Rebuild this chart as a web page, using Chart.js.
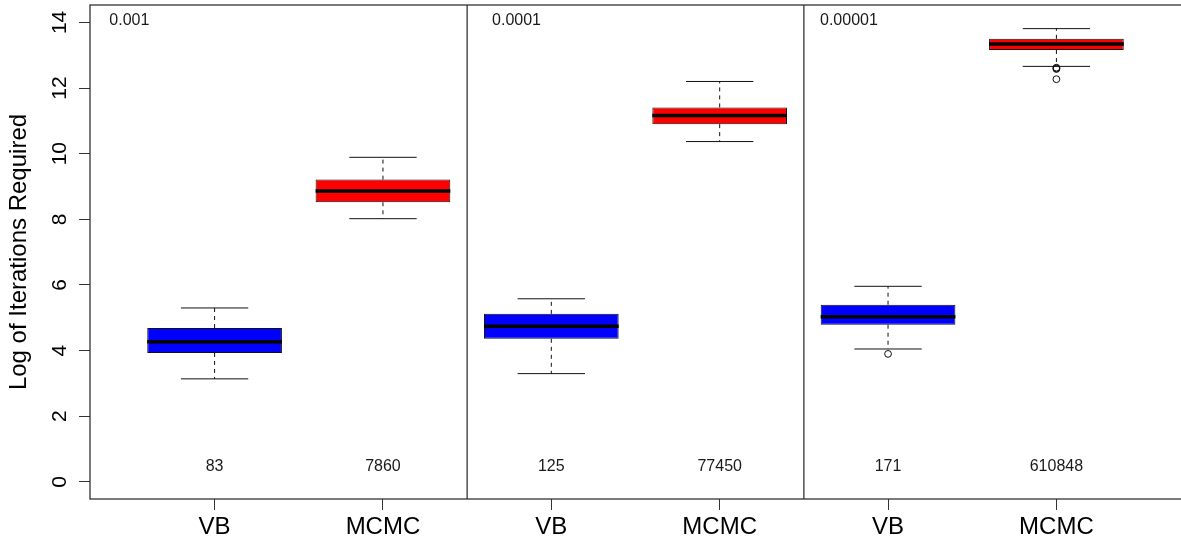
<!DOCTYPE html>
<html>
<head>
<meta charset="utf-8">
<script src="https://cdn.jsdelivr.net/npm/chart.js@4/dist/chart.umd.min.js"></script>
<style>
  html, body { margin: 0; padding: 0; background: #fff; }
</style>
</head>
<body>
<canvas id="iterations" width="1181" height="540"></canvas>
<script>
// data (log of iterations)
const groups = ['VB', 'MCMC', 'VB', 'MCMC', 'VB', 'MCMC'];
const positions = [1, 2, 3, 4, 5, 6];
const lowerWhisker = [3.14, 8.02, 3.30, 10.37, 4.05, 12.66];
const q1 = [3.93, 8.52, 4.36, 10.90, 4.79, 13.16];
const median = [4.27, 8.86, 4.74, 11.16, 5.03, 13.34];
const q3 = [4.69, 9.21, 5.12, 11.41, 5.40, 13.50];
const upperWhisker = [5.30, 9.89, 5.58, 12.20, 5.96, 13.81];
const outlierPos = [5, 6, 6, 6, 6];
const outlierVal = [3.90, 12.62, 12.60, 12.58, 12.27];
const tolerances = ['0.001', '0.0001', '0.00001'];
const counts = ['83', '7860', '125', '77450', '171', '610848'];
const yTicks = [0, 2, 4, 6, 8, 10, 12, 14];

const FONT = '"Liberation Sans", Arial, sans-serif';
const BOX_HALF = 0.4, CAP_HALF = 0.2;
const separators = [2.5, 4.5];
const tolX = [0.375, 2.648, 4.596], tolY = 14.05, countY = 0.48;

// turns [[x1,y1],[x2,y2]] pairs into one line dataset with gaps between them
function segments(pairs) {
  const pts = [];
  pairs.forEach(([a, b]) => {
    pts.push({x: a[0], y: a[1]}, {x: b[0], y: b[1]}, {x: b[0], y: null});
  });
  return pts;
}

const lineDefaults = {
  type: 'line', pointRadius: 0, borderColor: '#111', borderWidth: 1,
  fill: false, spanGaps: false, tension: 0
};

const decorations = {
  id: 'decorations',
  afterDatasetsDraw(chart) {
    const {ctx, chartArea: a, scales: {x, y}} = chart;
    ctx.save();
    ctx.strokeStyle = '#333';
    ctx.lineWidth = 1.3;
    // the R plot box runs just past the right edge of the image
    ctx.strokeRect(a.left, a.top, a.right - a.left + 1.5, a.bottom - a.top);
    separators.forEach(s => {
      const px = x.getPixelForValue(s);
      ctx.beginPath();
      ctx.moveTo(px, a.top);
      ctx.lineTo(px, a.bottom);
      ctx.stroke();
    });

    ctx.fillStyle = '#1a1a1a';
    ctx.font = '16px ' + FONT;
    ctx.textBaseline = 'middle';
    ctx.textAlign = 'left';
    tolerances.forEach((t, i) => ctx.fillText(t, x.getPixelForValue(tolX[i]), y.getPixelForValue(tolY)));
    ctx.textAlign = 'center';
    counts.forEach((t, i) => ctx.fillText(t, x.getPixelForValue(positions[i]), y.getPixelForValue(countY)));

    // rotated y tick labels, like R's default las = 0
    ctx.fillStyle = '#000';
    ctx.font = '21px ' + FONT;
    ctx.textBaseline = 'alphabetic';
    yTicks.forEach(v => {
      ctx.save();
      ctx.translate(y.right - 24.5, y.getPixelForValue(v));
      ctx.rotate(-Math.PI / 2);
      ctx.fillText(String(v), 0, 0);
      ctx.restore();
    });
    ctx.restore();
  }
};

new Chart(document.getElementById('iterations'), {
  type: 'bar',
  data: {
    datasets: [
      {
        type: 'bar',
        data: positions.map((p, i) => ({x: p, y: [q1[i], q3[i]]})),
        backgroundColor: groups.map(g => g === 'VB' ? '#0000ff' : '#ff0000'),
        borderColor: '#111',
        borderWidth: 1,
        borderSkipped: false,
        categoryPercentage: 1,
        barPercentage: 0.8,
        order: 2
      },
      Object.assign({}, lineDefaults, {
        data: segments(positions.map((p, i) => [[p, q3[i]], [p, upperWhisker[i]]])
          .concat(positions.map((p, i) => [[p, q1[i]], [p, lowerWhisker[i]]]))),
        borderDash: [4, 4],
        order: 3
      }),
      Object.assign({}, lineDefaults, {
        data: segments(positions.map((p, i) => [[p - CAP_HALF, upperWhisker[i]], [p + CAP_HALF, upperWhisker[i]]])
          .concat(positions.map((p, i) => [[p - CAP_HALF, lowerWhisker[i]], [p + CAP_HALF, lowerWhisker[i]]]))),
        order: 1
      }),
      Object.assign({}, lineDefaults, {
        data: segments(positions.map((p, i) => [[p - BOX_HALF, median[i]], [p + BOX_HALF, median[i]]])),
        borderColor: '#000',
        borderWidth: 3.5,
        order: 0
      }),
      {
        type: 'scatter',
        data: outlierPos.map((p, i) => ({x: p, y: outlierVal[i]})),
        pointRadius: 3.4,
        pointBorderColor: '#111',
        pointBackgroundColor: 'rgba(0,0,0,0)',
        pointBorderWidth: 1,
        order: 0
      }
    ]
  },
  options: {
    responsive: false,
    animation: false,
    layout: {autoPadding: false, padding: {top: 5, right: 0, bottom: 0, left: 0}},
    plugins: {legend: {display: false}, tooltip: {enabled: false}},
    scales: {
      x: {
        type: 'linear',
        min: 0.26,
        max: 6.74,
        offset: false,
        afterBuildTicks: s => { s.ticks = positions.map(v => ({value: v})); },
        afterFit: s => { s.height = 41; s.paddingRight = 0; s.paddingLeft = 0; },
        ticks: {
          callback: (v, i) => groups[i],
          color: '#000',
          padding: 3,
          maxRotation: 0,
          font: {family: FONT, size: 24}
        },
        grid: {offset: false, drawOnChartArea: false, tickLength: 11, tickColor: '#333'},
        border: {display: false}
      },
      y: {
        min: -0.52,
        max: 14.53,
        afterBuildTicks: s => { s.ticks = yTicks.map(v => ({value: v})); },
        afterFit: s => { s.width = 90; },
        ticks: {display: false},
        grid: {drawOnChartArea: false, tickLength: 11, tickColor: '#333'},
        border: {display: false},
        title: {
          display: true,
          text: 'Log of Iterations Required',
          color: '#000',
          font: {family: FONT, size: 24},
          padding: {top: 5, bottom: 0}
        }
      }
    }
  },
  plugins: [decorations]
});
</script>
</body>
</html>
